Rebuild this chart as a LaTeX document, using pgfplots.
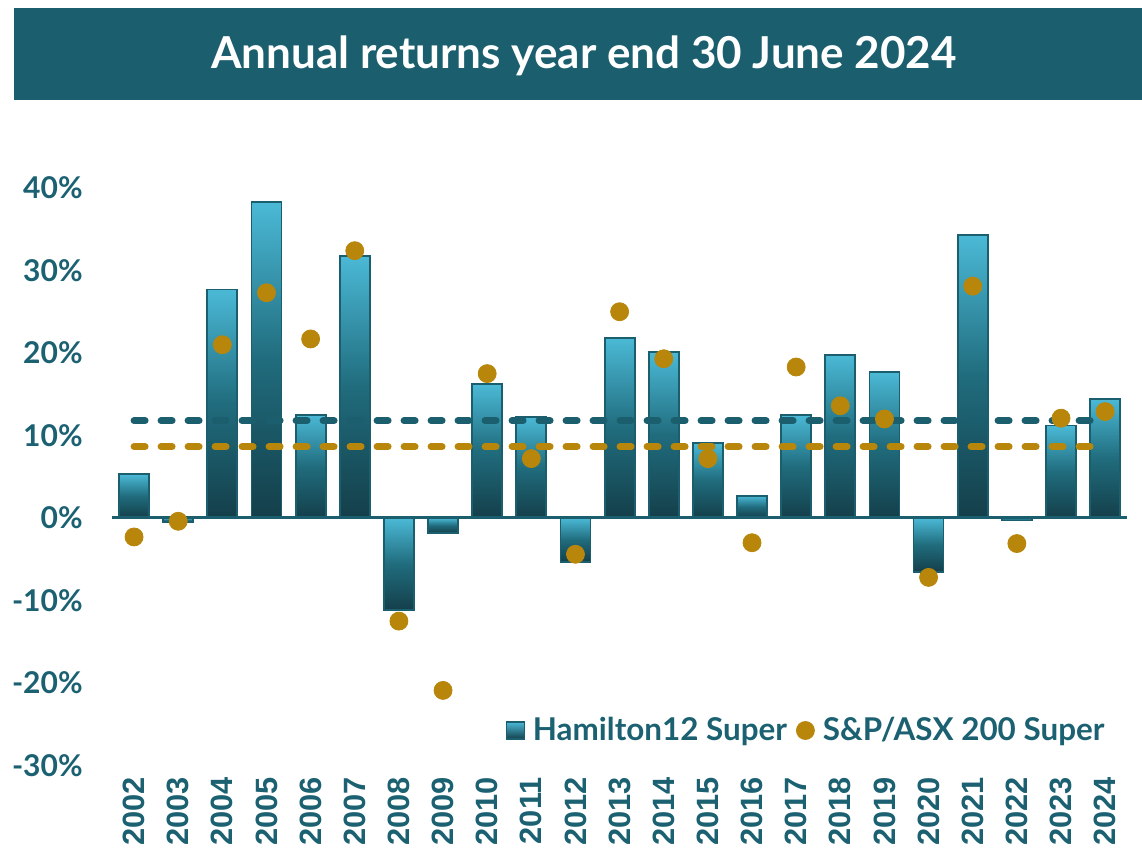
\documentclass[border=0pt]{standalone}
\usepackage{fontspec}
\setmainfont{Lato}
\newfontfamily\yearfont{Liberation Sans}
\usepackage{pgfplots}
\usepackage{pgfplotstable}
\pgfplotsset{compat=1.18}

\definecolor{hteal}{HTML}{1B5F6E}
\definecolor{htext}{HTML}{1B6171}
\definecolor{hgold}{HTML}{B8860B}
\definecolor{bartop}{HTML}{4BB9D6}
\definecolor{barmid}{HTML}{206C7D}
\definecolor{barbot}{HTML}{143F4A}

% year index, Hamilton12 Super, S&P/ASX 200 Super (per cent)
\pgfplotstableread{
x  ham   asx
0   5.3  -2.3
1  -0.5  -0.4
2  27.7  21.0
3  38.3  27.3
4  12.5  21.7
5  31.8  32.4
6 -11.2 -12.5
7  -1.8 -20.9
8  16.2  17.5
9  12.2   7.2
10 -5.3  -4.4
11 21.8  25.0
12 20.1  19.3
13  9.1   7.2
14  2.7  -3.0
15 12.5  18.3
16 19.8  13.6
17 17.7  12.0
18 -6.5  -7.2
19 34.3  28.1
20 -0.3  -3.1
21 11.2  12.1
22 14.4  12.9
}\returns

\begin{document}
\begin{tikzpicture}
\path[use as bounding box] (0,0) rectangle (571pt,424.5pt);
\fill[hteal] (7pt,374.5pt) rectangle (571pt,420.5pt);
\node[text=white, font=\bfseries\fontsize{22}{26}\selectfont] at (292pt,396.5pt) {Annual returns year end 30 June 2024};

\begin{axis}[
  at={(56pt,41.75pt)}, anchor=south west,
  x=22.07pt, y=4.125pt,
  xmin=-0.5, xmax=22.5, ymin=-30, ymax=40,
  clip=false,
  axis line style={draw=none},
  major tick length=0pt,
  xtick={0,...,22},
  xticklabels={2002,2003,2004,2005,2006,2007,2008,2009,2010,2011,2012,2013,2014,2015,2016,2017,2018,2019,2020,2021,2022,2023,2024},
  ytick={-30,-20,...,40},
  yticklabels={-30\%,-20\%,-10\%,0\%,10\%,20\%,30\%,40\%},
  xticklabel style={font=\yearfont\bfseries\fontsize{15.4}{18}\selectfont, text=htext, rotate=90, anchor=east, inner sep=0pt},
  xticklabel shift=5.75pt,
  yticklabel style={font=\bfseries\fontsize{15}{18}\selectfont, text=htext, anchor=east, inner sep=0pt, xshift=-14.5pt},
  legend columns=2,
  legend style={at={(0.978,0.0606)}, anchor=east, draw=none, fill=none, inner sep=0pt,
    font=\bfseries\fontsize{15.7}{18}\selectfont, text=htext, nodes={inner sep=0pt},
    /tikz/every odd column/.append style={column sep=4pt},
    /tikz/every even column/.append style={column sep=4.5pt}},
]
% one plot per bar, so that every bar gets its own gradient
\pgfplotsinvokeforeach{0,...,22}{
  \addplot[ybar, bar width=15pt, bar shift=0pt, draw=hteal, line width=0.9pt,
    top color=bartop, bottom color=barbot, middle color=barmid, forget plot,
    restrict x to domain=#1:#1]
    table[x=x, y=ham]{\returns};
}
\addlegendimage{legend image code/.code={\draw[draw=hteal, line width=0.6pt, top color=bartop, bottom color=barbot] (0pt,-4.25pt) rectangle (9pt,4.25pt);}}
\addlegendentry{Hamilton12 Super}
\draw[hteal, line width=1.5pt] (axis cs:-0.5,0) -- (axis cs:22.5,0);
\addplot[hteal, line width=3.5pt, line cap=round, dash pattern=on 5.5pt off 8pt, forget plot]
  coordinates {(0,11.8) (22,11.8)};
\addplot[hgold, line width=3.5pt, line cap=round, dash pattern=on 5.5pt off 8pt, forget plot]
  coordinates {(0,8.65) (22,8.65)};
\addplot[only marks, mark=*, mark size=4.5pt, color=hgold, mark options={draw=none, fill=hgold},
  legend image code/.code={\fill[hgold] (4.5pt,0pt) circle (4.5pt);}]
  table[x=x, y=asx]{\returns};
\addlegendentry{S\&P/ASX 200 Super}
\end{axis}
\end{tikzpicture}
\end{document}
